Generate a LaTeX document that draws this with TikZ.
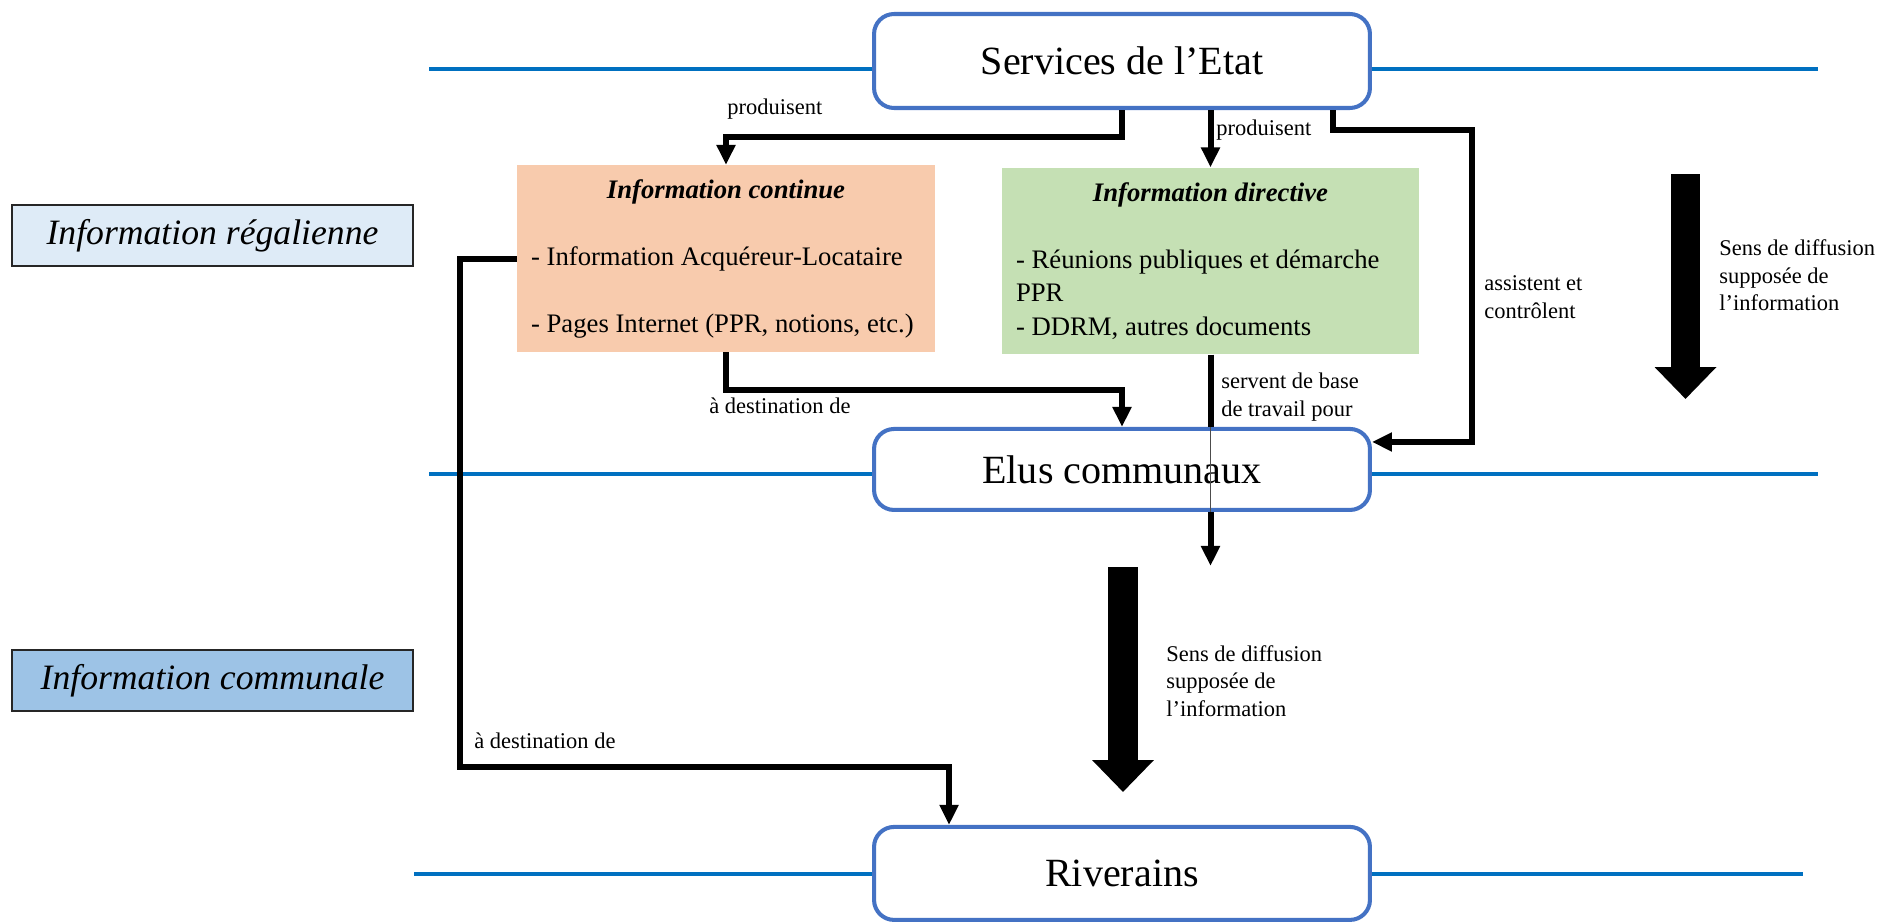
\documentclass[tikz,border=0pt]{standalone}
\usepackage{fontspec}
\setmainfont{Liberation Serif}
\usepackage{xcolor}
\usetikzlibrary{arrows.meta,positioning,calc}
\setlength{\parindent}{0pt}
\definecolor{riBorder}{HTML}{4472C4}
\definecolor{riLevel}{HTML}{0070C0}
\definecolor{riPeach}{HTML}{F8CBAD}
\definecolor{riGreen}{HTML}{C5E0B4}
\definecolor{riPale}{HTML}{DEEBF7}
\definecolor{riSky}{HTML}{9DC3E6}
\newcommand{\actorfont}{\fontsize{22.8}{27}\selectfont}
\newcommand{\infofont}{\fontsize{15.2}{19.06}\selectfont}
\newcommand{\zonefont}{\fontsize{20.3}{24}\selectfont}
\newcommand{\labelfont}{\fontsize{12.8}{15.65}\selectfont}
\newcommand{\plainspaces}{\spaceskip=0pt\xspaceskip=0pt\relax}
\tikzset{
  ri actor/.style={
    rectangle,
    rounded corners=0.4cm,
    draw=riBorder,
    line width=2.3pt,
    fill=white,
    minimum width=9.92cm,
    font=\actorfont,
  },
  ri info/.style={
    rectangle,
    align=left,
    inner xsep=0.28cm,
    minimum height=3.73cm,
    font=\infofont,
  },
  ri zone/.style={
    rectangle,
    draw=black!85,
    line width=1.2pt,
    minimum width=8.02cm,
    minimum height=1.22cm,
    font=\zonefont\itshape,
  },
  ri level/.style={draw=riLevel, line width=2.8pt},
  ri arrow/.style={-{Triangle[length=0.4cm,width=0.36cm]}, line width=0.12cm},
  ri line/.style={line width=0.12cm},
  ri flow/.style={-{Triangle[length=0.64cm,width=1.2cm]}, line width=0.59cm},
  ri label/.style={font=\labelfont, inner sep=0pt, align=left},
}
\begin{document}
\begin{tikzpicture}[x=0.02cm,y=-0.02cm]
  \useasboundingbox (0,0) rectangle (1881,923);

  \node[ri actor,minimum height=1.88cm] (services) at (1122,61) {Services de l’Etat};
  \node[ri actor,minimum height=1.62cm,below=6.34cm of services] (elus) {Elus communaux};
  \node[ri actor,minimum height=1.86cm,below=6.26cm of elus] (riverains) {Riverains};

  \node[ri zone,fill=riPale] (zoneReg) at (212.5,235.5) {Information régalienne};
  \node[ri zone,fill=riSky] (zoneCom) at (212.5,680.5) {Information communale};

  \node[ri info,fill=riPeach,text width=7.8cm] (infoCont) at (726,258.5)
    {\plainspaces{\centering\bfseries\itshape Information continue\par}\vspace{0.67cm}%
     - Information Acquéreur-Locataire\par\vspace{0.67cm}%
     - Pages Internet (PPR, notions, etc.)};
  \node[ri info,fill=riGreen,text width=7.78cm] (infoDir) at (1210.5,261)
    {\plainspaces{\centering\bfseries\itshape Information directive\par}\vspace{0.67cm}%
     - Réunions publiques et démarche\\PPR\\- DDRM, autres documents};

  % horizontal levels
  \coordinate (levTopL) at (429,69);
  \coordinate (levTopR) at (1818,69);
  \coordinate (levMidL) at (429,474);
  \coordinate (levMidR) at (1818,474);
  \coordinate (levLowL) at (414,874);
  \coordinate (levLowR) at (1803,874);
  \draw[ri level] (levTopL) -- (levTopL -| services.west);
  \draw[ri level] (levTopR -| services.east) -- (levTopR);
  \draw[ri level] (levMidL) -- (levMidL -| elus.west);
  \draw[ri level] (levMidR -| elus.east) -- (levMidR);
  \draw[ri level] (levLowL) -- (levLowL -| riverains.west);
  \draw[ri level] (levLowR -| riverains.east) -- (levLowR);

  \draw[ri arrow] (services.south) -- ++(0,27) -| (infoCont.north);
  \node[ri label,anchor=base west] (prodCont) at (727,114) {produisent};

  \draw[ri arrow] (services.south -| infoDir.north) -- (infoDir.north);
  \node[ri label,anchor=base west] (prodDir) at (1216,135) {produisent};

  \coordinate (ctlTop) at (1472,130);
  \draw[ri arrow] ([xshift=4.22cm]services.south) |- (ctlTop) |- ([yshift=0.55cm]elus.east);
  \node[ri label,anchor=west] (ctlLbl) at (1484,297) {assistent et\\contrôlent};

  \draw[ri arrow] (infoCont.south) -- ++(0,38) -| (elus.north);
  \node[ri label,anchor=base west] (destElus) at (709,413) {à destination de};

  \coordinate (rivCorner) at (460,767);
  \draw[ri arrow] (infoCont.west) -| (rivCorner) -| ([xshift=-3.46cm]riverains.north);
  \node[ri label,anchor=base west] (destRiv) at (474,748) {à destination de};

  \draw[ri line] (infoDir.south) -- (elus.north -| infoDir.south);
  \draw[black!70,line width=0.5pt] (elus.north -| infoDir.south) -- (elus.south -| infoDir.south);
  \draw[ri arrow] (elus.south -| infoDir.south) -- ++(0,54);
  \node[ri label,anchor=west] (baseLbl) at (1221,397) {servent de base\\de travail pour};

  % sens de diffusion
  \coordinate (flowTopA) at (1685.5,174);
  \coordinate (flowEndA) at (1685.5,399);
  \draw[ri flow] (flowTopA) -- (flowEndA);
  \node[ri label,anchor=west] (senseA) at (1719,275.5) {Sens de diffusion\\supposée de\\l’information};

  \coordinate (flowTopB) at (1123,567);
  \coordinate (flowEndB) at (1123,792);
  \draw[ri flow] (flowTopB) -- (flowEndB);
  \node[ri label,anchor=west] (senseB) at (1166,681) {Sens de diffusion\\supposée de\\l’information};
\end{tikzpicture}
\end{document}
